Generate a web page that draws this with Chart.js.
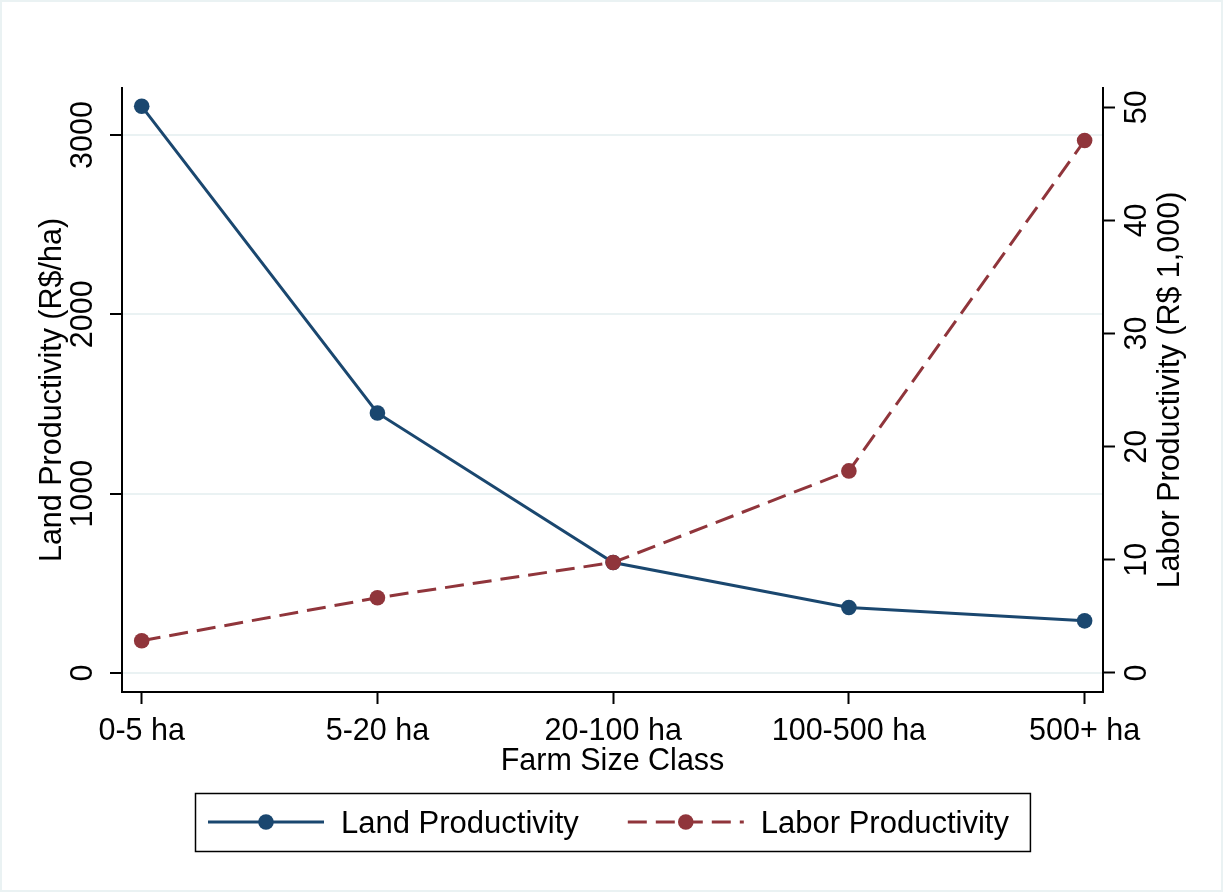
<!DOCTYPE html>
<html>
<head>
<meta charset="utf-8">
<title>Productivity by Farm Size Class</title>
<style>
  html, body { margin: 0; padding: 0; background: #ffffff; }
  #wrap { width: 1223px; height: 892px; position: relative; }
  canvas { display: block; }
</style>
<script src="https://cdn.jsdelivr.net/npm/chart.js@4.4.0/dist/chart.umd.min.js"></script>
</head>
<body>
<div id="wrap"><canvas id="chart" width="1223" height="892"></canvas></div>
<script>
// Farm size classes and the two productivity series
const categories = ['0-5 ha', '5-20 ha', '20-100 ha', '100-500 ha', '500+ ha'];
const landProductivity = [3160, 1450, 616, 365, 291];        // R$/ha
const laborProductivity = [2.85, 6.65, 9.77, 17.86, 47.06];  // R$ 1,000
const landTicks = [0, 1000, 2000, 3000];
const laborTicks = [0, 10, 20, 30, 40, 50];
const seriesNames = ['Land Productivity', 'Labor Productivity'];
const xTitle = 'Farm Size Class';
const landTitle = 'Land Productivity (R$/ha)';
const laborTitle = 'Labor Productivity (R$ 1,000)';

const FONT = "'Liberation Sans', Arial, Helvetica, sans-serif";
const NAVY = '#1a476f';
const MAROON = '#90353b';
const GRID = '#eaf2f3';
const AXIS_FONT = { family: FONT, size: 30.5, lineHeight: 1.2 };

Chart.defaults.font.family = FONT;
Chart.defaults.color = '#000';

const toPoints = arr => arr.map((v, i) => ({ x: i, y: v }));

// Background, outer frame, right-axis title and boxed legend
const decorations = {
  id: 'decorations',
  beforeDraw(chart) {
    const { ctx, width, height } = chart;
    ctx.save();
    ctx.fillStyle = '#ffffff';
    ctx.fillRect(0, 0, width, height);
    ctx.strokeStyle = GRID;
    ctx.lineWidth = 2;
    ctx.strokeRect(1, 1, width - 2, height - 2);
    ctx.restore();
  },
  afterDraw(chart) {
    const { ctx, chartArea } = chart;
    const yR = chart.scales.yR;
    const xs = chart.scales.x;
    const midY = (chartArea.top + chartArea.bottom) / 2;

    // Right axis title, reading bottom to top
    ctx.save();
    ctx.translate(yR.left + 68, midY);
    ctx.rotate(-Math.PI / 2);
    ctx.font = `30.5px ${FONT}`;
    ctx.fillStyle = '#000';
    ctx.textAlign = 'center';
    ctx.textBaseline = 'middle';
    ctx.fillText(laborTitle, 0, 0);
    ctx.restore();

    // Legend: line sample with marker, then label
    ctx.save();
    ctx.font = `31px ${FONT}`;
    const sampleW = 116, textGap = 17, itemGap = 49, pad = 13;
    const items = chart.data.datasets.map(ds => ({ ds, tw: ctx.measureText(ds.label).width }));
    let contentW = 0;
    items.forEach((it, i) => { contentW += sampleW + textGap + it.tw + (i < items.length - 1 ? itemGap : 0); });
    const boxW = contentW + pad * 2 + 8;
    const boxH = 58;
    const boxL = Math.round((chartArea.left + chartArea.right) / 2 - boxW / 2);
    const boxT = Math.round(xs.bottom + 21);
    ctx.strokeStyle = '#000';
    ctx.lineWidth = 1.5;
    ctx.strokeRect(boxL + 0.5, boxT + 0.5, boxW, boxH);

    const lineY = boxT + 29;
    let cx = boxL + pad;
    items.forEach(it => {
      const ds = it.ds;
      ctx.strokeStyle = ds.borderColor;
      ctx.lineWidth = ds.borderWidth;
      ctx.setLineDash(ds.borderDash || []);
      ctx.beginPath();
      ctx.moveTo(cx, lineY);
      ctx.lineTo(cx + sampleW, lineY);
      ctx.stroke();
      ctx.setLineDash([]);
      ctx.fillStyle = ds.pointBackgroundColor;
      ctx.beginPath();
      ctx.arc(cx + sampleW / 2, lineY, ds.pointRadius, 0, Math.PI * 2);
      ctx.fill();
      ctx.fillStyle = '#000';
      ctx.textAlign = 'left';
      ctx.textBaseline = 'middle';
      ctx.fillText(ds.label, cx + sampleW + textGap, lineY + 2);
      cx += sampleW + textGap + it.tw + itemGap;
    });
    ctx.restore();
  }
};

new Chart(document.getElementById('chart'), {
  type: 'line',
  data: {
    datasets: [
      {
        label: seriesNames[0],
        data: toPoints(landProductivity),
        yAxisID: 'yL',
        borderColor: NAVY,
        backgroundColor: NAVY,
        pointBackgroundColor: NAVY,
        pointBorderWidth: 0,
        pointRadius: 7.8,
        borderWidth: 3,
        tension: 0,
        fill: false,
        order: 1
      },
      {
        label: seriesNames[1],
        data: toPoints(laborProductivity),
        yAxisID: 'yR',
        borderColor: MAROON,
        backgroundColor: MAROON,
        pointBackgroundColor: MAROON,
        pointBorderWidth: 0,
        pointRadius: 7.8,
        borderWidth: 3,
        borderDash: [19, 9],
        tension: 0,
        fill: false,
        order: 0
      }
    ]
  },
  options: {
    responsive: false,
    devicePixelRatio: 1,
    animation: false,
    layout: { padding: { top: 88, bottom: 120, left: 0, right: 0 } },
    plugins: {
      legend: { display: false },
      tooltip: { enabled: false }
    },
    scales: {
      x: {
        type: 'linear',
        position: 'bottom',
        min: -0.0836,
        max: 4.078,
        afterBuildTicks: s => { s.ticks = categories.map((_, i) => ({ value: i })); },
        afterFit: s => { s.height = 80; },
        ticks: {
          callback: v => categories[v] ?? '',
          font: AXIS_FONT,
          color: '#000',
          padding: 9,
          minRotation: 0,
          maxRotation: 0,
          autoSkip: false
        },
        grid: { drawOnChartArea: false, drawTicks: true, tickLength: 12, tickColor: '#000', tickWidth: 2 },
        border: { display: true, color: '#000', width: 2 },
        title: {
          display: true,
          text: xTitle,
          color: '#000',
          font: { family: FONT, size: 30.5, lineHeight: 1 },
          padding: { top: 0, bottom: -5 }
        }
      },
      yL: {
        type: 'linear',
        position: 'left',
        min: -105.8,
        max: 3262,
        afterBuildTicks: s => { s.ticks = landTicks.map(v => ({ value: v })); },
        afterFit: s => { s.width = 122; },
        ticks: {
          callback: v => String(v),
          font: AXIS_FONT,
          color: '#000',
          minRotation: 90,
          maxRotation: 90,
          crossAlign: 'center',
          padding: -8
        },
        grid: { color: GRID, lineWidth: 2, drawTicks: true, tickLength: 12, tickColor: '#000', tickWidth: 2 },
        border: { display: true, color: '#000', width: 2 },
        title: {
          display: true,
          text: landTitle,
          color: '#000',
          font: AXIS_FONT,
          padding: { top: 34, bottom: 0 }
        }
      },
      yR: {
        type: 'linear',
        position: 'right',
        min: -1.68,
        max: 51.7,
        afterBuildTicks: s => { s.ticks = laborTicks.map(v => ({ value: v })); },
        afterFit: s => { s.width = 120; },
        ticks: {
          callback: v => String(v),
          font: AXIS_FONT,
          color: '#000',
          minRotation: 90,
          maxRotation: 90,
          crossAlign: 'center',
          padding: 6
        },
        grid: { drawOnChartArea: false, drawTicks: true, tickLength: 12, tickColor: '#000', tickWidth: 2 },
        border: { display: true, color: '#000', width: 2 },
        title: { display: false }
      }
    }
  },
  plugins: [decorations]
});
</script>
</body>
</html>
